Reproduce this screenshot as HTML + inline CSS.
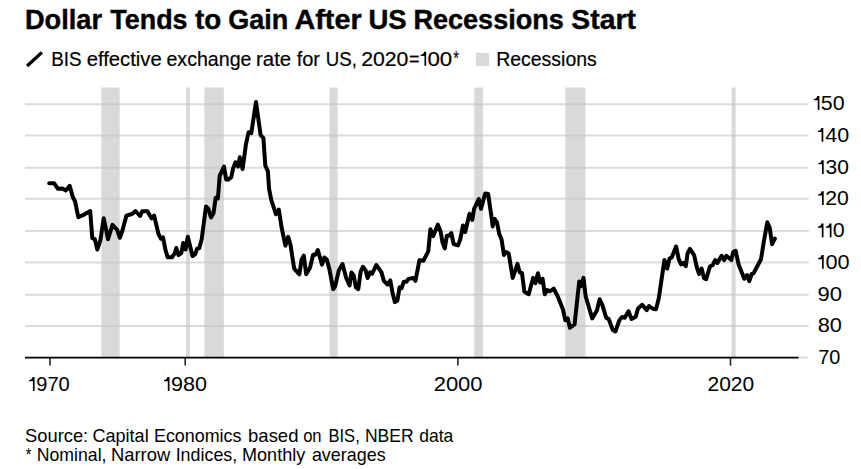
<!DOCTYPE html>
<html><head><meta charset="utf-8"><title>Dollar Tends to Gain After US Recessions Start</title>
<style>html,body{margin:0;padding:0;background:#fff;}body{width:861px;height:469px;position:relative;overflow:hidden;font-family:"Liberation Sans",sans-serif;}</style></head>
<body>
<svg width="861" height="469" viewBox="0 0 861 469" style="position:absolute;left:0;top:0">
<line x1="25" x2="808.6" y1="104.2" y2="104.2" stroke="#dbdbdb" stroke-width="2"/>
<line x1="25" x2="808.6" y1="135.5" y2="135.5" stroke="#dbdbdb" stroke-width="2"/>
<line x1="25" x2="808.6" y1="167.7" y2="167.7" stroke="#dbdbdb" stroke-width="2"/>
<line x1="25" x2="808.6" y1="198.8" y2="198.8" stroke="#dbdbdb" stroke-width="2"/>
<line x1="25" x2="808.6" y1="231.1" y2="231.1" stroke="#dbdbdb" stroke-width="2"/>
<line x1="25" x2="808.6" y1="262.4" y2="262.4" stroke="#dbdbdb" stroke-width="2"/>
<line x1="25" x2="808.6" y1="294.7" y2="294.7" stroke="#dbdbdb" stroke-width="2"/>
<line x1="25" x2="808.6" y1="326.0" y2="326.0" stroke="#dbdbdb" stroke-width="2"/>
<rect x="101.45" y="87.5" width="18.20" height="270.1" fill="#c4c4c4" fill-opacity="0.65"/>
<rect x="186.15" y="87.5" width="3.70" height="270.1" fill="#c4c4c4" fill-opacity="0.65"/>
<rect x="204.35" y="87.5" width="19.50" height="270.1" fill="#c4c4c4" fill-opacity="0.65"/>
<rect x="329.55" y="87.5" width="8.10" height="270.1" fill="#c4c4c4" fill-opacity="0.65"/>
<rect x="474.25" y="87.5" width="8.80" height="270.1" fill="#c4c4c4" fill-opacity="0.65"/>
<rect x="565.35" y="87.5" width="20.10" height="270.1" fill="#c4c4c4" fill-opacity="0.65"/>
<rect x="731.55" y="87.5" width="4.10" height="270.1" fill="#c4c4c4" fill-opacity="0.65"/>
<line x1="797" x2="807.5" y1="357.6" y2="357.6" stroke="#dbdbdb" stroke-width="2"/>
<line x1="25" x2="798.5" y1="357.6" y2="357.6" stroke="#000" stroke-width="1.6"/>
<line x1="50.0" x2="50.0" y1="357.6" y2="365.6" stroke="#1a1a1a" stroke-width="1.5"/>
<line x1="185.2" x2="185.2" y1="357.6" y2="365.6" stroke="#1a1a1a" stroke-width="1.5"/>
<line x1="457.9" x2="457.9" y1="357.6" y2="365.6" stroke="#1a1a1a" stroke-width="1.5"/>
<line x1="730.5" x2="730.5" y1="357.6" y2="365.6" stroke="#1a1a1a" stroke-width="1.5"/>
<path d="M49.2,183.2 L54.0,183.2 L58.0,188.8 L62.3,188.4 L65.8,190.5 L69.7,185.9 L72.8,197.0 L75.1,201.5 L78.3,217.2 L83.7,214.8 L90.2,211.1 L92.3,238.2 L94.8,239.2 L97.3,249.5 L100.4,240.2 L103.7,218.2 L108.0,239.2 L112.5,224.8 L117.2,229.9 L119.8,237.8 L122.5,230.3 L126.4,215.7 L132.0,214.0 L135.5,211.0 L140.1,216.0 L142.3,211.2 L147.5,211.2 L151.5,218.4 L154.1,215.5 L158.5,234.0 L160.9,238.7 L163.0,237.3 L165.5,250.0 L167.7,257.3 L172.0,257.3 L174.8,253.2 L176.3,248.0 L178.5,255.1 L181.3,253.2 L183.2,243.0 L185.6,249.5 L187.8,236.8 L190.0,245.8 L192.5,256.0 L195.2,254.1 L197.1,248.6 L199.3,248.0 L201.7,239.3 L206.0,206.4 L208.3,208.6 L211.0,217.5 L213.5,213.2 L215.7,197.8 L217.9,198.4 L219.7,175.9 L224.0,166.6 L226.2,179.6 L228.1,179.6 L231.3,177.2 L233.1,168.4 L235.5,162.3 L238.0,166.6 L239.8,157.3 L242.6,169.0 L245.8,145.2 L248.6,132.2 L251.3,133.1 L256.0,102.1 L260.6,135.0 L263.4,138.1 L265.3,165.6 L267.9,171.3 L269.1,189.2 L271.4,200.3 L276.0,214.3 L278.8,209.6 L281.5,227.0 L285.4,245.6 L288.2,236.9 L290.5,244.8 L294.2,268.7 L299.4,274.3 L301.6,259.4 L303.8,255.7 L306.2,274.3 L310.0,267.8 L313.1,254.7 L315.5,254.7 L317.8,250.1 L322.0,264.6 L324.3,257.5 L326.7,259.4 L329.5,269.6 L333.2,289.1 L335.1,286.3 L338.8,270.5 L342.5,264.0 L346.2,278.0 L349.6,285.4 L351.4,272.4 L353.6,275.2 L355.9,287.3 L358.3,289.1 L360.7,271.5 L362.9,266.8 L365.7,270.5 L367.6,278.0 L370.0,272.4 L372.2,273.7 L376.3,265.0 L381.5,272.4 L383.8,280.8 L387.5,284.5 L390.3,280.4 L392.7,293.8 L394.9,302.1 L397.3,300.8 L399.6,287.3 L401.6,288.2 L403.8,281.7 L406.6,281.7 L408.5,278.9 L413.1,278.0 L415.4,280.8 L419.5,260.1 L423.4,260.8 L428.3,251.3 L430.4,229.3 L433.2,236.1 L437.9,224.6 L440.7,232.0 L442.5,242.3 L444.8,248.4 L446.8,235.8 L449.0,235.8 L451.3,233.0 L453.7,244.1 L458.0,245.4 L460.2,239.5 L463.0,225.5 L465.2,232.0 L469.5,213.8 L472.3,220.0 L474.1,208.8 L478.8,199.0 L481.0,208.8 L485.3,193.4 L488.1,193.9 L491.8,219.0 L492.7,226.5 L494.6,219.0 L497.0,222.4 L499.2,233.9 L501.6,239.5 L503.9,255.0 L506.0,252.0 L508.7,253.5 L512.7,277.9 L517.5,263.9 L519.7,272.3 L522.0,273.2 L524.4,291.8 L528.7,294.2 L533.1,277.9 L535.5,283.1 L537.9,273.2 L540.2,282.5 L542.6,278.8 L544.8,294.2 L547.2,290.0 L549.8,291.3 L553.7,288.7 L557.8,296.5 L563.0,309.5 L565.3,320.3 L567.7,318.4 L569.9,327.7 L574.6,324.3 L579.2,281.6 L581.1,286.2 L583.5,277.9 L585.7,296.5 L592.2,318.4 L596.9,310.4 L599.7,299.3 L602.5,305.4 L606.2,317.8 L608.6,318.8 L612.7,329.9 L615.5,331.4 L619.2,320.6 L622.0,316.9 L624.8,317.8 L628.5,311.3 L631.5,319.0 L634.5,317.5 L635.8,316.6 L638.0,308.5 L642.2,304.8 L646.8,310.1 L649.1,306.0 L653.2,309.0 L656.0,309.3 L658.8,298.2 L664.4,260.1 L667.2,268.5 L669.4,258.8 L671.8,257.3 L676.1,246.5 L678.7,259.2 L681.1,264.4 L683.5,262.9 L685.8,266.2 L687.6,253.2 L689.9,248.9 L694.1,255.1 L696.9,267.5 L699.1,274.0 L701.6,268.5 L704.0,278.1 L706.2,279.2 L709.9,266.6 L712.7,265.1 L715.1,260.1 L717.4,262.9 L721.6,255.8 L724.2,260.1 L726.3,255.8 L731.3,260.1 L733.2,252.1 L735.6,250.8 L738.7,264.7 L744.3,278.7 L747.1,275.0 L749.3,281.1 L751.7,274.0 L753.6,273.1 L757.3,266.2 L761.0,259.3 L764.1,240.0 L767.3,222.3 L769.7,227.9 L772.1,244.2 L774.9,238.7" fill="none" stroke="#000" stroke-width="4" stroke-linejoin="round" stroke-linecap="round"/>
<line x1="27.1" y1="66.0" x2="41.9" y2="52.4" stroke="#000" stroke-width="3.3"/>
<rect x="476" y="52.9" width="13.1" height="13" fill="#d9d9d9"/>
<text x="24.98" y="28.7" font-family="Liberation Sans, sans-serif" font-size="27.6" font-weight="bold" stroke="#000" stroke-width="0.4" textLength="77.02" lengthAdjust="spacingAndGlyphs">Dollar</text>
<text x="110.30" y="28.7" font-family="Liberation Sans, sans-serif" font-size="27.6" font-weight="bold" stroke="#000" stroke-width="0.4" textLength="77.24" lengthAdjust="spacingAndGlyphs">Tends</text>
<text x="194.95" y="28.7" font-family="Liberation Sans, sans-serif" font-size="27.6" font-weight="bold" stroke="#000" stroke-width="0.4" textLength="26.26" lengthAdjust="spacingAndGlyphs">to</text>
<text x="228.32" y="28.7" font-family="Liberation Sans, sans-serif" font-size="27.6" font-weight="bold" stroke="#000" stroke-width="0.4" textLength="60.04" lengthAdjust="spacingAndGlyphs">Gain</text>
<text x="294.48" y="28.7" font-family="Liberation Sans, sans-serif" font-size="27.6" font-weight="bold" stroke="#000" stroke-width="0.4" textLength="67.17" lengthAdjust="spacingAndGlyphs">After</text>
<text x="368.50" y="28.7" font-family="Liberation Sans, sans-serif" font-size="27.6" font-weight="bold" stroke="#000" stroke-width="0.4" textLength="38.24" lengthAdjust="spacingAndGlyphs">US</text>
<text x="413.38" y="28.7" font-family="Liberation Sans, sans-serif" font-size="27.6" font-weight="bold" stroke="#000" stroke-width="0.4" textLength="150.49" lengthAdjust="spacingAndGlyphs">Recessions</text>
<text x="571.39" y="28.7" font-family="Liberation Sans, sans-serif" font-size="27.6" font-weight="bold" stroke="#000" stroke-width="0.4" textLength="64.54" lengthAdjust="spacingAndGlyphs">Start</text>
<text x="51.22" y="65.7" font-family="Liberation Sans, sans-serif" font-size="20.5" stroke="#000" stroke-width="0.2" textLength="30.31" lengthAdjust="spacingAndGlyphs">BIS</text>
<text x="86.66" y="65.7" font-family="Liberation Sans, sans-serif" font-size="20.5" stroke="#000" stroke-width="0.2" textLength="75.07" lengthAdjust="spacingAndGlyphs">effective</text>
<text x="166.48" y="65.7" font-family="Liberation Sans, sans-serif" font-size="20.5" stroke="#000" stroke-width="0.2" textLength="85.00" lengthAdjust="spacingAndGlyphs">exchange</text>
<text x="256.06" y="65.7" font-family="Liberation Sans, sans-serif" font-size="20.5" stroke="#000" stroke-width="0.2" textLength="35.17" lengthAdjust="spacingAndGlyphs">rate</text>
<text x="296.66" y="65.7" font-family="Liberation Sans, sans-serif" font-size="20.5" stroke="#000" stroke-width="0.2" textLength="23.33" lengthAdjust="spacingAndGlyphs">for</text>
<text x="325.74" y="65.7" font-family="Liberation Sans, sans-serif" font-size="20.5" stroke="#000" stroke-width="0.2" textLength="31.10" lengthAdjust="spacingAndGlyphs">US,</text>
<text x="361.16" y="65.7" font-family="Liberation Sans, sans-serif" font-size="20.5" stroke="#000" stroke-width="0.2" textLength="47.27" lengthAdjust="spacingAndGlyphs">2020</text>
<text x="409.12" y="65.7" font-family="Liberation Sans, sans-serif" font-size="20.5" stroke="#000" stroke-width="0.2" textLength="10.55" lengthAdjust="spacingAndGlyphs">=</text>
<text x="427.48" y="65.7" font-family="Liberation Sans, sans-serif" font-size="20.5" stroke="#000" stroke-width="0.2" textLength="24.80" lengthAdjust="spacingAndGlyphs">00</text>
<text x="453.21" y="64.6" font-family="Liberation Sans, sans-serif" font-size="20.0" stroke="#000" stroke-width="0.1" textLength="5.81" lengthAdjust="spacingAndGlyphs">*</text>
<text x="496.18" y="65.7" font-family="Liberation Sans, sans-serif" font-size="20.5" stroke="#000" stroke-width="0.2" textLength="100.61" lengthAdjust="spacingAndGlyphs">Recessions</text>
<text x="820.88" y="109.9" font-family="Liberation Sans, sans-serif" font-size="19.5" textLength="23.79" lengthAdjust="spacingAndGlyphs">50</text>
<text x="825.35" y="141.7" font-family="Liberation Sans, sans-serif" font-size="19.5" textLength="23.93" lengthAdjust="spacingAndGlyphs">40</text>
<text x="825.59" y="174.0" font-family="Liberation Sans, sans-serif" font-size="19.5" textLength="23.36" lengthAdjust="spacingAndGlyphs">30</text>
<text x="825.31" y="205.1" font-family="Liberation Sans, sans-serif" font-size="19.5" textLength="23.66" lengthAdjust="spacingAndGlyphs">20</text>
<text x="832.77" y="237.3" font-family="Liberation Sans, sans-serif" font-size="19.5" textLength="11.97" lengthAdjust="spacingAndGlyphs">0</text>
<text x="825.57" y="268.8" font-family="Liberation Sans, sans-serif" font-size="19.5" textLength="24.11" lengthAdjust="spacingAndGlyphs">00</text>
<text x="817.47" y="301.0" font-family="Liberation Sans, sans-serif" font-size="19.5" textLength="24.52" lengthAdjust="spacingAndGlyphs">90</text>
<text x="817.76" y="332.2" font-family="Liberation Sans, sans-serif" font-size="19.5" textLength="24.22" lengthAdjust="spacingAndGlyphs">80</text>
<text x="818.18" y="364.0" font-family="Liberation Sans, sans-serif" font-size="19.5" textLength="22.14" lengthAdjust="spacingAndGlyphs">70</text>
<text x="36.27" y="390.9" font-family="Liberation Sans, sans-serif" font-size="19.5" textLength="33.45" lengthAdjust="spacingAndGlyphs">970</text>
<text x="171.09" y="390.9" font-family="Liberation Sans, sans-serif" font-size="19.5" textLength="35.99" lengthAdjust="spacingAndGlyphs">980</text>
<text x="433.67" y="390.9" font-family="Liberation Sans, sans-serif" font-size="19.5" textLength="48.95" lengthAdjust="spacingAndGlyphs">2000</text>
<text x="707.52" y="390.9" font-family="Liberation Sans, sans-serif" font-size="19.5" textLength="46.66" lengthAdjust="spacingAndGlyphs">2020</text>
<text x="25.04" y="441.5" font-family="Liberation Sans, sans-serif" font-size="19.0" textLength="63.14" lengthAdjust="spacingAndGlyphs">Source:</text>
<text x="92.45" y="441.5" font-family="Liberation Sans, sans-serif" font-size="19.0" textLength="56.25" lengthAdjust="spacingAndGlyphs">Capital</text>
<text x="153.99" y="441.5" font-family="Liberation Sans, sans-serif" font-size="19.0" textLength="87.44" lengthAdjust="spacingAndGlyphs">Economics</text>
<text x="248.08" y="441.5" font-family="Liberation Sans, sans-serif" font-size="19.0" textLength="50.36" lengthAdjust="spacingAndGlyphs">based</text>
<text x="303.15" y="441.5" font-family="Liberation Sans, sans-serif" font-size="19.0" textLength="18.45" lengthAdjust="spacingAndGlyphs">on</text>
<text x="328.49" y="441.5" font-family="Liberation Sans, sans-serif" font-size="19.0" textLength="31.25" lengthAdjust="spacingAndGlyphs">BIS,</text>
<text x="364.92" y="441.5" font-family="Liberation Sans, sans-serif" font-size="19.0" textLength="48.65" lengthAdjust="spacingAndGlyphs">NBER</text>
<text x="419.21" y="441.5" font-family="Liberation Sans, sans-serif" font-size="19.0" textLength="34.08" lengthAdjust="spacingAndGlyphs">data</text>
<text x="25.81" y="461.4" font-family="Liberation Sans, sans-serif" font-size="19.0" textLength="5.71" lengthAdjust="spacingAndGlyphs">*</text>
<text x="36.70" y="461.4" font-family="Liberation Sans, sans-serif" font-size="19.0" textLength="69.81" lengthAdjust="spacingAndGlyphs">Nominal,</text>
<text x="110.95" y="461.4" font-family="Liberation Sans, sans-serif" font-size="19.0" textLength="59.24" lengthAdjust="spacingAndGlyphs">Narrow</text>
<text x="175.65" y="461.4" font-family="Liberation Sans, sans-serif" font-size="19.0" textLength="61.58" lengthAdjust="spacingAndGlyphs">Indices,</text>
<text x="241.97" y="461.4" font-family="Liberation Sans, sans-serif" font-size="19.0" textLength="63.36" lengthAdjust="spacingAndGlyphs">Monthly</text>
<text x="311.89" y="461.4" font-family="Liberation Sans, sans-serif" font-size="19.0" textLength="73.74" lengthAdjust="spacingAndGlyphs">averages</text>
<path d="M817.35,96.10 L819.40,96.10 L819.40,109.90 L817.70,109.90 L817.70,100.25 L813.90,100.25 L813.90,99.05 Q816.70,98.95 817.35,96.10 Z" fill="#000"/>
<path d="M821.25,127.90 L823.30,127.90 L823.30,141.70 L821.60,141.70 L821.60,132.05 L817.80,132.05 L817.80,130.85 Q820.60,130.75 821.25,127.90 Z" fill="#000"/>
<path d="M821.65,160.20 L823.70,160.20 L823.70,174.00 L822.00,174.00 L822.00,164.35 L818.20,164.35 L818.20,163.15 Q821.00,163.05 821.65,160.20 Z" fill="#000"/>
<path d="M821.65,191.30 L823.70,191.30 L823.70,205.10 L822.00,205.10 L822.00,195.45 L818.20,195.45 L818.20,194.25 Q821.00,194.15 821.65,191.30 Z" fill="#000"/>
<path d="M821.45,223.50 L823.50,223.50 L823.50,237.30 L821.80,237.30 L821.80,227.65 L818.00,227.65 L818.00,226.45 Q820.80,226.35 821.45,223.50 Z" fill="#000"/>
<path d="M829.45,223.50 L831.50,223.50 L831.50,237.30 L829.80,237.30 L829.80,227.65 L826.00,227.65 L826.00,226.45 Q828.80,226.35 829.45,223.50 Z" fill="#000"/>
<path d="M821.65,255.00 L823.70,255.00 L823.70,268.80 L822.00,268.80 L822.00,259.15 L818.20,259.15 L818.20,257.95 Q821.00,257.85 821.65,255.00 Z" fill="#000"/>
<path d="M32.55,377.10 L34.60,377.10 L34.60,390.90 L32.90,390.90 L32.90,381.25 L29.10,381.25 L29.10,380.05 Q31.90,379.95 32.55,377.10 Z" fill="#000"/>
<path d="M167.45,377.10 L169.50,377.10 L169.50,390.90 L167.80,390.90 L167.80,381.25 L164.00,381.25 L164.00,380.05 Q166.80,379.95 167.45,377.10 Z" fill="#000"/>
<path d="M424.10,51.70 L426.18,51.70 L426.18,65.70 L424.46,65.70 L424.46,55.91 L420.60,55.91 L420.60,54.69 Q423.44,54.59 424.10,51.70 Z" fill="#000"/>
</svg>
</body></html>
